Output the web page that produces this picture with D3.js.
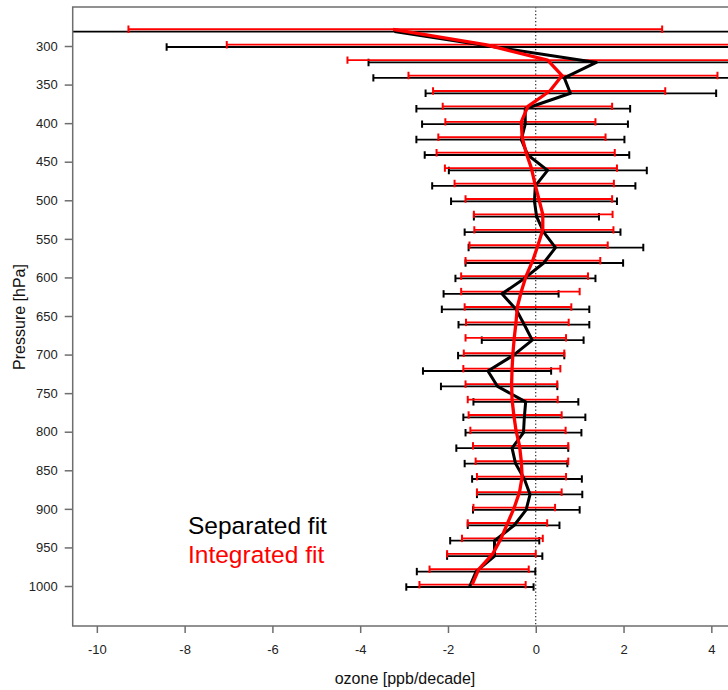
<!DOCTYPE html>
<html>
<head>
<meta charset="utf-8">
<script src="https://cdnjs.cloudflare.com/ajax/libs/d3/7.8.5/d3.min.js"></script>
<style>
  body { margin: 0; background: #fff; }
  text { font-family: "Liberation Sans", Arial, sans-serif; }
</style>
</head>
<body>
<div id="chart"></div>
<script>
// Pressure levels [hPa]
var levels = [280, 300, 320, 340, 360, 380, 400, 420, 440, 460, 480, 500, 520, 540, 560, 580,
              600, 620, 640, 660, 680, 700, 720, 740, 760, 780, 800, 820, 840, 860, 880, 900,
              920, 940, 960, 980, 1000];

// Separated fit: trend and error bar limits [ppb/decade]
var sepMean = [-3.22, -0.92, 1.38, 0.65, 0.79, -0.24, -0.24, -0.33, -0.18, 0.27, -0.01, -0.03,
               0.02, 0.18, 0.45, 0.18, -0.26, -0.77, -0.45, -0.26, -0.08, -0.52, -1.09, -0.87,
               -0.23, -0.26, -0.28, -0.54, -0.46, -0.26, -0.13, -0.22, -0.49, -0.94, -0.94,
               -1.36, -1.51];
var sepLo = [-12.0, -8.41, -3.81, -3.70, -2.51, -2.72, -2.59, -2.72, -2.53, -1.98, -2.36, -1.93,
             -1.41, -1.62, -1.53, -1.60, -1.83, -2.10, -2.14, -1.76, -1.23, -1.77, -2.57, -2.16,
             -1.42, -1.65, -1.60, -1.81, -1.62, -1.45, -1.34, -1.43, -1.55, -1.95, -2.02,
             -2.71, -2.95];
var sepHi = [6.0, 6.0, 6.0, 6.0, 4.11, 2.15, 2.10, 2.02, 2.13, 2.53, 2.27, 1.85,
             1.44, 1.93, 2.45, 1.99, 1.36, 0.52, 1.22, 1.22, 1.09, 0.65, 0.35, 0.49,
             0.97, 1.13, 1.04, 0.74, 0.72, 1.05, 1.06, 1.00, 0.54, 0.08, 0.15,
             -0.01, -0.05];

// Integrated fit
var intMean = [-3.25, -1.15, 0.27, 0.60, 0.32, -0.18, -0.33, -0.31, -0.22, -0.10, -0.02, 0.07,
               0.16, 0.16, 0.05, -0.07, -0.22, -0.33, -0.42, -0.45, -0.49, -0.52, -0.54, -0.55,
               -0.54, -0.50, -0.45, -0.37, -0.33, -0.31, -0.37, -0.49, -0.64, -0.79, -0.98,
               -1.30, -1.45];
var intLo = [-9.28, -7.04, -4.29, -2.90, -2.34, -2.12, -2.06, -2.22, -2.26, -2.07, -1.85, -1.60,
             -1.41, -1.40, -1.51, -1.60, -1.70, -1.70, -1.62, -1.59, -1.60, -1.64, -1.65, -1.60,
             -1.55, -1.53, -1.49, -1.43, -1.37, -1.34, -1.34, -1.42, -1.55, -1.68, -2.02,
             -2.42, -2.65];
var intHi = [2.88, 6.0, 6.0, 4.14, 2.95, 1.74, 1.36, 1.59, 1.80, 1.85, 1.78, 1.74,
             1.75, 1.77, 1.64, 1.47, 1.19, 1.00, 0.81, 0.75, 0.69, 0.65, 0.56, 0.49,
             0.50, 0.59, 0.68, 0.74, 0.74, 0.69, 0.59, 0.44, 0.26, 0.16, 0.00,
             -0.16, -0.23];

var yTicks = [300, 350, 400, 450, 500, 550, 600, 650, 700, 750, 800, 850, 900, 950, 1000];
var xTicks = [-10, -8, -6, -4, -2, 0, 2, 4];

// Chart dimensions
var width = 728, height = 690;
var plot = {left: 72.7, top: 7, bottom: 626, right: 764};

var svg = d3.select("#chart").append("svg")
    .attr("width", width)
    .attr("height", height);

var x = d3.scaleLinear().domain([-10.55, 5.2]).range([plot.left, plot.right]);
var y = d3.scaleLinear().domain([249.44, 1051.85]).range([plot.top, plot.bottom]);

svg.append("clipPath").attr("id", "clip")
    .append("rect")
    .attr("x", plot.left).attr("y", plot.top)
    .attr("width", plot.right - plot.left).attr("height", plot.bottom - plot.top);

// zero line
svg.append("line")
    .attr("x1", x(0)).attr("x2", x(0))
    .attr("y1", plot.top).attr("y2", plot.bottom)
    .attr("stroke", "#000")
    .attr("stroke-width", 1)
    .attr("stroke-dasharray", "1.3,2.2");

var g = svg.append("g").attr("clip-path", "url(#clip)");

// error bars: horizontal segment plus two caps
function errorBars(lo, hi, color, dy) {
    var bars = g.append("g").selectAll("g")
        .data(levels)
        .enter()
        .append("g")
        .attr("stroke", color)
        .attr("stroke-width", 1.8);
    bars.append("line")
        .attr("x1", function(d, i) { return x(lo[i]); })
        .attr("x2", function(d, i) { return x(hi[i]); })
        .attr("y1", function(d) { return y(d) + dy; })
        .attr("y2", function(d) { return y(d) + dy; });
    [lo, hi].forEach(function(arr) {
        bars.append("line")
            .attr("x1", function(d, i) { return x(arr[i]); })
            .attr("x2", function(d, i) { return x(arr[i]); })
            .attr("y1", function(d) { return y(d) + dy - 3.7; })
            .attr("y2", function(d) { return y(d) + dy + 3.7; })
            .attr("stroke-width", 2);
    });
}

errorBars(sepLo, sepHi, "#000", 1);
errorBars(intLo, intHi, "#ff0000", -1.3);

// trend profiles
var sepLine = d3.line()
    .x(function(d, i) { return x(sepMean[i]); })
    .y(function(d) { return y(d) + 1; });

var intLine = d3.line()
    .x(function(d, i) { return x(intMean[i]); })
    .y(function(d) { return y(d) - 1.3; });

g.append("path")
    .attr("d", sepLine(levels))
    .attr("fill", "none")
    .attr("stroke", "#000")
    .attr("stroke-width", 3)
    .attr("stroke-linejoin", "round");

g.append("path")
    .attr("d", intLine(levels))
    .attr("fill", "none")
    .attr("stroke", "#ff0000")
    .attr("stroke-width", 3.3)
    .attr("stroke-linejoin", "round");

// box
svg.append("path")
    .attr("d", "M" + plot.right + "," + plot.top + "H" + plot.left + "V" + plot.bottom + "H" + plot.right)
    .attr("fill", "none")
    .attr("stroke", "#6e6e6e")
    .attr("stroke-width", 1.5);

// y axis
var yAxis = svg.append("g")
    .attr("transform", "translate(" + plot.left + ",0)")
    .call(d3.axisLeft(y).tickValues(yTicks).tickSize(8).tickPadding(7)
        .tickFormat(function(d) { return String(d); }));
yAxis.select(".domain").remove();
yAxis.selectAll(".tick line").attr("stroke", "#6e6e6e").attr("stroke-width", 1.5);
yAxis.selectAll(".tick text")
    .attr("fill", "#222")
    .style("font-size", "13px")
    .style("font-family", "'Liberation Sans', Arial, sans-serif");

// x axis
var xAxis = svg.append("g")
    .attr("transform", "translate(0," + plot.bottom + ")")
    .call(d3.axisBottom(x).tickValues(xTicks).tickSize(7).tickPadding(12)
        .tickFormat(function(d) { return String(d); }));
xAxis.select(".domain").remove();
xAxis.selectAll(".tick line").attr("stroke", "#6e6e6e").attr("stroke-width", 1.5);
xAxis.selectAll(".tick text")
    .attr("fill", "#222")
    .style("font-size", "13px")
    .style("font-family", "'Liberation Sans', Arial, sans-serif");

// axis titles
svg.append("text")
    .attr("x", 405)
    .attr("y", 684)
    .attr("text-anchor", "middle")
    .style("font-size", "16px")
    .attr("fill", "#111")
    .text("ozone [ppb/decade]");

svg.append("text")
    .attr("transform", "translate(25,317) rotate(-90)")
    .attr("text-anchor", "middle")
    .style("font-size", "16px")
    .attr("fill", "#111")
    .text("Pressure [hPa]");

// legend
svg.append("text")
    .attr("x", 188).attr("y", 534)
    .style("font-size", "24.5px")
    .attr("fill", "#000")
    .text("Separated fit");

svg.append("text")
    .attr("x", 188).attr("y", 563)
    .style("font-size", "24.5px")
    .attr("fill", "#ff0000")
    .text("Integrated fit");
</script>
</body>
</html>
